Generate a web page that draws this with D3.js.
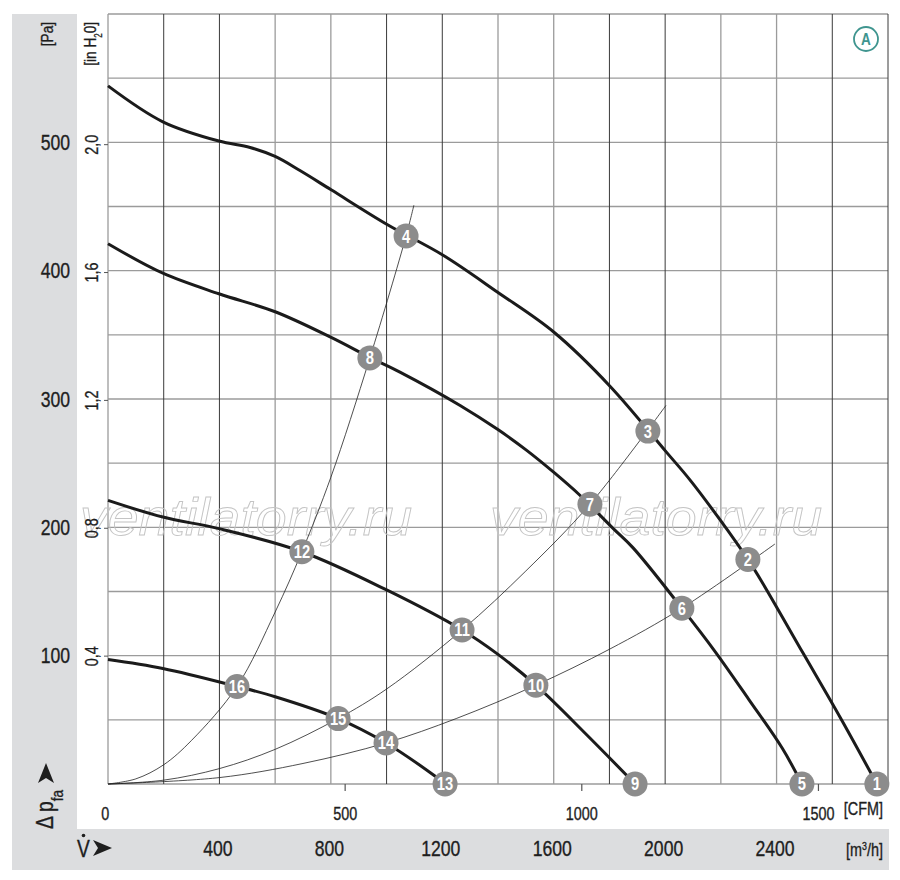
<!DOCTYPE html>
<html>
<head>
<meta charset="utf-8">
<script src="https://cdn.jsdelivr.net/npm/d3@7"></script>
<style>
  body { margin: 0; background: #fff; }
  text { font-family: "Liberation Sans", Arial, sans-serif; }
</style>
</head>
<body>
<div id="chart"></div>
<script>
// Flow in m3/h, pressure in Pa
var flowTicks = [400, 800, 1200, 1600, 2000, 2400];
var cfmTicks = [0, 500, 1000, 1500];
var paTicks = [100, 200, 300, 400, 500];
var inH2OTicks = [0.4, 0.8, 1.2, 1.6, 2.0];

// Fan curves (thick)
var curveA = [[0,544],[197,516],[398,501],[510,496],[600,489],[689,478],[801,463],[1002,436],[1203,412],[1400,383],
  [1601,352],[1802,310],[2003,259],[2089,237],[2200,205],[2297,175],[2346,158],[2495,102],[2628,52],[2760,0]];
var curveB = [[0,421],[197,398],[398,382],[600,368],[801,348],[944,332],[1048,321],[1264,295],[1401,276],[1503,260],
  [1605,242],[1694,225],[1814,199],[1885,184],[2060,137],[2180,103],[2300,66],[2420,28],[2491,0]];
var curveC = [[0,221],[197,208],[398,199],[696,181],[1002,151],[1271,120],[1400,101],[1536,77],[1720,38],[1892,0]];
var curveD = [[0,97],[197,90],[463,76],[600,68],[826,51],[998,32],[1181,5],[1210,0]];

// System curves (thin)
var sys1 = [[0,0],[100,4],[200,15],[300,34],[463,76],[600,134],[696,181],[800,239],[940,332],[1070,427],[1098,451]];
var sys2 = [[0,0],[200,3],[400,12],[600,27],[826,51],[1000,74],[1271,120],[1500,166],[1730,218],[2003,295]];
var sys3 = [[0,0],[400,5],[700,16],[998,32],[1250,51],[1536,77],[1800,105],[2060,137],[2394,187]];

// Operating points: [label, flow, pressure]
var markers = [[1,2760,0],[2,2297,175],[3,1938,275],[4,1070,427],[5,2491,0],[6,2060,137],[7,1730,218],[8,940,332],
  [9,1892,0],[10,1536,77],[11,1271,120],[12,696,181],[13,1210,0],[14,998,32],[15,826,51],[16,463,76]];

var panel = "#dcdddf";
var ink = "#1e1e1e";
var narrow = 0.8; // condensed look
var margin = {top: 14, left: 108},
    width = 780,
    height = 770;

var svg = d3.select("#chart")
  .append("svg")
    .attr("width", 900)
    .attr("height", 880);

// gray frame strips
svg.append("rect").attr("x", 12).attr("y", 14).attr("width", 65).attr("height", 856).attr("fill", panel);
svg.append("rect").attr("x", 12).attr("y", 829).attr("width", 877).attr("height", 41).attr("fill", panel);

var g = svg.append("g")
    .attr("transform", `translate(${margin.left},${margin.top})`);

var x = d3.scaleLinear().domain([0, 2800]).range([0, width]);
var y = d3.scaleLinear().domain([0, 600]).range([height, 0]);
var xCfm = d3.scaleLinear().domain([0, 2800 / 1.699]).range([0, width]);
var yIn = d3.scaleLinear().domain([0, 600 / 249.089]).range([height, 0]);

function label(parent, px, py, rot) {
  return parent.append("text")
    .attr("transform", `translate(${px},${py})` + (rot ? ` rotate(${rot})` : "") + ` scale(${narrow},1)`)
    .attr("fill", ink)
    .attr("stroke", ink)
    .attr("stroke-width", 0.35);
}

function inkText(sel, size) {
  sel.attr("transform", `scale(${narrow},1)`)
    .style("font-size", size + "px")
    .attr("fill", ink)
    .attr("stroke", ink)
    .attr("stroke-width", 0.35);
}

// grid
g.selectAll(".hgrid")
  .data(y.ticks(12))
  .enter().append("line")
    .attr("x1", 0).attr("x2", width)
    .attr("y1", d => y(d)).attr("y2", d => y(d))
    .attr("stroke", "#9b9b9b")
    .attr("stroke-width", 1.3);

g.selectAll(".vgrid")
  .data(x.ticks(14))
  .enter().append("line")
    .attr("x1", d => x(d)).attr("x2", d => x(d))
    .attr("y1", 0).attr("y2", height)
    .attr("stroke", (d, i) => (i > 0 && (i - 1) % 4 < 2) ? "#3a3a3a" : "#9b9b9b")
    .attr("stroke-width", (d, i) => (i > 0 && (i - 1) % 4 < 2) ? 1 : 1.3);

// watermark
[[-28, 535], [382, 535]].forEach(function(p) {
  g.append("text")
    .attr("x", p[0])
    .attr("y", p[1] - margin.top)
    .attr("textLength", 332)
    .attr("lengthAdjust", "spacingAndGlyphs")
    .style("font-style", "italic")
    .style("font-size", "52px")
    .attr("fill", "none")
    .attr("stroke", "#c4c4c4")
    .attr("stroke-width", 0.9)
    .text("ventilatorry.ru");
});

// CFM axis
var cfmAxis = g.append("g")
    .attr("transform", `translate(0,${height})`)
    .call(d3.axisBottom(xCfm).tickValues(cfmTicks).tickSize(7).tickPadding(16).tickFormat(d3.format("d")));
cfmAxis.select(".domain").remove();
cfmAxis.selectAll("line").attr("stroke", "#555").attr("stroke-width", 1.2);
inkText(cfmAxis.selectAll("text"), 18);
cfmAxis.selectAll(".tick").filter(d => d === 0).select("line").remove();
cfmAxis.selectAll(".tick").filter(d => d === 0).select("text").attr("x", -4);

label(g, 775, 815 - margin.top)
  .attr("text-anchor", "end")
  .style("font-size", "18px")
  .text("[CFM]");

// m3/h axis
var flowAxis = g.append("g")
    .attr("transform", `translate(-2,${840 - margin.top})`)
    .call(d3.axisBottom(x).tickValues(flowTicks).tickSize(0).tickPadding(0).tickFormat(d3.format("d")));
flowAxis.select(".domain").remove();
inkText(flowAxis.selectAll("text"), 22);

var m3 = label(g, 775, 856 - margin.top)
  .attr("text-anchor", "end")
  .style("font-size", "18px");
m3.append("tspan").text("[m");
m3.append("tspan").attr("baseline-shift", "super").style("font-size", "11px").text("3");
m3.append("tspan").text("/h]");

// Pa axis
var paAxis = g.append("g")
    .attr("transform", "translate(-38,0)")
    .call(d3.axisLeft(y).tickValues(paTicks).tickSize(0).tickPadding(0));
paAxis.select(".domain").remove();
inkText(paAxis.selectAll("text"), 22);

label(g, -55, 8, -90)
  .attr("text-anchor", "end")
  .style("font-size", "17px")
  .text("[Pa]");

// in H2O axis
g.selectAll(".inlab")
  .data(inH2OTicks)
  .enter().append("text")
    .attr("transform", d => `translate(-10,${yIn(d)}) rotate(-90) scale(${narrow},1)`)
    .attr("text-anchor", "middle")
    .style("font-size", "18px")
    .attr("fill", ink)
    .attr("stroke", ink)
    .attr("stroke-width", 0.3)
    .text(d => d.toFixed(1).replace(".", ","));

g.selectAll(".intick")
  .data(inH2OTicks)
  .enter().append("line")
    .attr("x1", -4).attr("x2", 0)
    .attr("y1", d => yIn(d)).attr("y2", d => yIn(d))
    .attr("stroke", "#555");

var inLab = label(g, -12, 8, -90)
  .attr("text-anchor", "end")
  .style("font-size", "17px");
inLab.append("tspan").text("[in H");
inLab.append("tspan").attr("baseline-shift", "sub").style("font-size", "10px").text("2");
inLab.append("tspan").text("0]");

// Delta p label
var dp = label(svg, 53, 829, -90)
  .style("font-size", "24px");
dp.append("tspan").text("\u0394 p");
dp.append("tspan").attr("baseline-shift", "sub").style("font-size", "17px").text("fa");
svg.append("path")
  .attr("d", "M46,763 L54,783 L46,778 L38,783 Z")
  .attr("fill", ink);

// V-dot label
label(svg, 77, 857)
  .style("font-size", "24px")
  .text("V");
svg.append("circle").attr("cx", 83.5).attr("cy", 835.5).attr("r", 1.8).attr("fill", ink);
svg.append("path")
  .attr("d", "M112,848 L93,840 L98,848 L93,856 Z")
  .attr("fill", ink);

// curves
var line = d3.line()
  .x(d => x(d[0]))
  .y(d => y(d[1]))
  .curve(d3.curveCatmullRom.alpha(0.5));

[sys1, sys2, sys3].forEach(function(s) {
  g.append("path")
    .attr("d", line(s))
    .attr("fill", "none")
    .attr("stroke", "#222")
    .attr("stroke-width", 0.8);
});

[curveA, curveB, curveC, curveD].forEach(function(c) {
  g.append("path")
    .attr("d", line(c))
    .attr("fill", "none")
    .attr("stroke", "#1b1b1b")
    .attr("stroke-width", 3);
});

// operating points
var pts = g.selectAll(".pt")
  .data(markers)
  .enter().append("g")
    .attr("transform", d => `translate(${x(d[1])},${y(d[2])})`);
pts.append("circle")
  .attr("r", 12.5)
  .attr("fill", "#8c8c8c");
pts.append("text")
  .attr("text-anchor", "middle")
  .attr("dy", "0.36em")
  .attr("transform", "scale(0.82,1)")
  .style("font-size", "18px")
  .style("font-weight", "bold")
  .attr("fill", "#fff")
  .text(d => d[0]);

// curve set badge
svg.append("circle")
  .attr("cx", 866).attr("cy", 39).attr("r", 12)
  .attr("fill", "#fff")
  .attr("stroke", "#3f958f")
  .attr("stroke-width", 1.8);
label(svg, 866, 45)
  .attr("text-anchor", "middle")
  .style("font-size", "17px")
  .style("font-weight", "bold")
  .attr("fill", "#3f958f")
  .attr("stroke", "none")
  .text("A");
</script>
</body>
</html>
